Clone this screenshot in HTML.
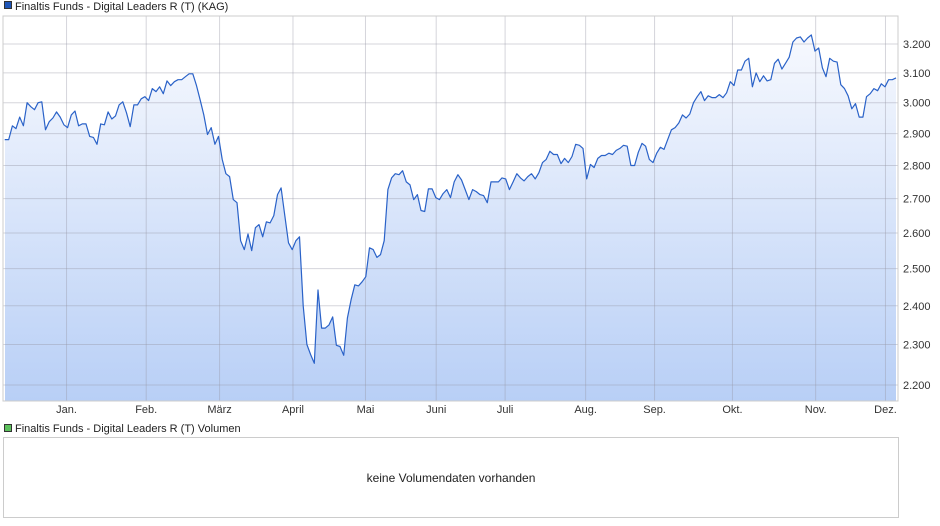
<!DOCTYPE html>
<html><head><meta charset="utf-8"><style>
body{margin:0;background:#fff;width:940px;height:526px;overflow:hidden;font-family:"Liberation Sans",sans-serif}
svg{position:absolute;left:0;top:0}
</style></head><body>
<svg width="940" height="526">
<defs><linearGradient id="g" x1="0" y1="0" x2="0" y2="1"><stop offset="0" stop-color="#f7f9fe"/><stop offset="1" stop-color="#b8cff6"/></linearGradient></defs>
<g id="root"></g>
</svg>
<script>
const values=[2881,2881,2925,2916,2953,2925,3000,2987,2977,3000,3003,2912,2938,2950,2970,2953,2928,2919,2960,2973,2925,2931,2931,2891,2888,2866,2931,2928,2970,2947,2957,2993,3003,2967,2922,2993,2993,3013,3020,3007,3047,3037,3053,3030,3073,3057,3070,3077,3077,3087,3097,3097,3057,3010,2960,2897,2919,2866,2891,2819,2775,2766,2697,2688,2578,2553,2597,2550,2615,2624,2589,2632,2629,2650,2712,2732,2650,2572,2553,2578,2589,2400,2300,2275,2253,2442,2342,2342,2350,2371,2298,2295,2273,2368,2416,2456,2453,2464,2478,2558,2553,2531,2539,2578,2727,2762,2775,2772,2784,2750,2741,2697,2712,2665,2662,2729,2729,2703,2697,2715,2727,2703,2750,2772,2756,2727,2697,2727,2721,2712,2709,2688,2750,2750,2750,2762,2759,2727,2750,2775,2762,2753,2766,2775,2759,2778,2809,2819,2844,2834,2834,2806,2822,2809,2828,2866,2863,2853,2759,2803,2794,2822,2831,2831,2838,2834,2847,2853,2863,2860,2800,2800,2841,2869,2860,2819,2809,2838,2857,2850,2881,2912,2919,2934,2960,2950,2963,3000,3020,3037,3007,3023,3017,3017,3027,3017,3033,3070,3057,3110,3110,3140,3150,3053,3100,3070,3090,3073,3077,3133,3147,3113,3133,3154,3207,3221,3225,3207,3221,3232,3175,3186,3117,3087,3150,3140,3137,3060,3047,3023,2980,2997,2953,2953,3020,3030,3047,3040,3063,3053,3077,3077,3083];
const yTicks=[3200,3100,3000,2900,2800,2700,2600,2500,2400,2300,2200];
const yTickLabels=["3.200","3.100","3.000","2.900","2.800","2.700","2.600","2.500","2.400","2.300","2.200"];
const months=["Jan.","Feb.","März","April","Mai","Juni","Juli","Aug.","Sep.","Okt.","Nov.","Dez."];
const monthFrac=[0.071,0.160,0.242,0.324,0.405,0.484,0.561,0.651,0.728,0.815,0.908,0.986];
const L=3,R=898,T=16,B=401;
const y=v=>44+910*Math.log(3200/v);
const x=i=>5+i*(896-5)/(values.length-1);
const fx=f=>L+f*(R-L);
const NS="http://www.w3.org/2000/svg";const root=document.getElementById('root');
function mk(t,a,p){const e=document.createElementNS(NS,t);for(const k in a)e.setAttribute(k,a[k]);(p||root).appendChild(e);return e;}
const bg=mk('rect',{x:L,y:T,width:R-L,height:B-T,fill:'#fff',stroke:'#ccc'});


let d='M'+x(0)+','+y(values[0]);values.forEach((v,i)=>{d+=' L'+x(i).toFixed(1)+','+y(v).toFixed(1);});
const area=mk('path',{d:d+' L'+x(values.length-1)+','+B+' L'+x(0)+','+B+' Z',fill:'url(#g)'});


yTicks.forEach((t,i)=>{const g=mk('line',{x1:L,x2:R,y1:y(t),y2:y(t),stroke:'rgba(150,150,165,0.4)'});


const tx=mk('text',{x:903,y:y(t)+4,'font-size':11,fill:'#333'});tx.textContent=yTickLabels[i];

});
months.forEach((m,i)=>{const X=fx(monthFrac[i]);const g=mk('line',{x1:X,x2:X,y1:T,y2:B,stroke:'rgba(150,150,165,0.4)'});


const tx=mk('text',{x:X,y:413,'font-size':11,fill:'#333','text-anchor':'middle'});tx.textContent=m;

});
const line=mk('path',{d:d,fill:'none',stroke:'#2a62c8','stroke-width':1.2,'stroke-linejoin':'round'});


mk('rect',{x:L,y:T,width:R-L,height:B-T,fill:'none',stroke:'#ccc'});
</script>
<svg width="940" height="526" style="pointer-events:none">
<rect x="4.5" y="1.5" width="7" height="7" fill="#1f56b8" stroke="#333" stroke-width="1"/>
<text x="15" y="10" font-size="11" fill="#222">Finaltis Funds - Digital Leaders R (T) (KAG)</text>
<rect x="4.5" y="424.5" width="7" height="7" fill="#5cc15c" stroke="#333" stroke-width="1"/>
<text x="15" y="432" font-size="11" fill="#222">Finaltis Funds - Digital Leaders R (T) Volumen</text>
<rect x="3.5" y="437.5" width="895" height="80" fill="#fff" stroke="#ccc"/>
<text x="451" y="482" font-size="12" fill="#222" text-anchor="middle">keine Volumendaten vorhanden</text>
</svg>
</body></html>
